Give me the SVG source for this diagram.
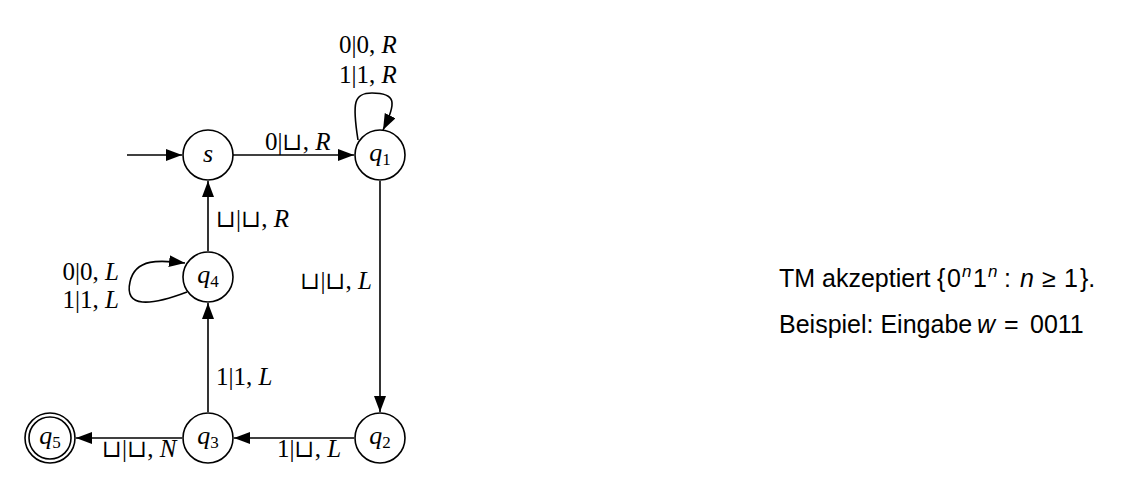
<svg xmlns="http://www.w3.org/2000/svg" width="1124" height="498" viewBox="0 0 1124 498">
<style>
.n{fill:#fff;stroke:#000;stroke-width:1.6}
.e{fill:none;stroke:#000;stroke-width:1.6}
.t{font-family:"Liberation Serif","DejaVu Serif",serif;font-size:25px;fill:#000}
.b{font-family:"DejaVu Serif",serif;font-size:24px;font-weight:normal}
.nl{font-family:"Liberation Serif","DejaVu Serif",serif;font-size:26px;font-style:italic;fill:#000}
.i{font-style:italic}
.sub{font-size:17px;font-style:normal}
.r{font-family:"Liberation Sans","Arial",sans-serif;font-size:25px;fill:#000}
.sup{font-size:17px;font-style:italic}
</style>
<defs>
<marker id="a" markerUnits="userSpaceOnUse" markerWidth="17" markerHeight="13" refX="16" refY="6" orient="auto">
<path d="M0,0 L16,6 L0,12 Z" fill="#000"/>
</marker>
</defs>
<g id="connectors">
<path class="e" d="M127,155 L182,155" marker-end="url(#a)"/>
<path class="e" d="M233,155 L354,155" marker-end="url(#a)"/>
<path class="e" d="M358,140 C352,102 354,93 372,93 C396,93 397,102 383,130" marker-end="url(#a)"/>
<path class="e" d="M380,181 L380,412" marker-end="url(#a)"/>
<path class="e" d="M354,438 L234,438" marker-end="url(#a)"/>
<path class="e" d="M182,438 L76,438" marker-end="url(#a)"/>
<path class="e" d="M208,412 L208,303" marker-end="url(#a)"/>
<path class="e" d="M208,251 L208,181" marker-end="url(#a)"/>
<path class="e" d="M187,292 C150,306 124,308 130,282 C135,258 160,260 185,263" marker-end="url(#a)"/>
</g>
<g id="labels">
<text class="t" x="339" y="53">0|0, <tspan class="i">R</tspan></text>
<text class="t" x="339" y="83">1|1, <tspan class="i">R</tspan></text>
<text class="t" x="265" y="150">0|<tspan class="b">⊔</tspan>, <tspan class="i">R</tspan></text>
<text class="t" x="216" y="227"><tspan class="b">⊔</tspan>|<tspan class="b">⊔</tspan>, <tspan class="i">R</tspan></text>
<text class="t" x="372" y="289" text-anchor="end"><tspan class="b">⊔</tspan>|<tspan class="b">⊔</tspan>, <tspan class="i">L</tspan></text>
<text class="t" x="119" y="280" text-anchor="end">0|0, <tspan class="i">L</tspan></text>
<text class="t" x="119" y="308" text-anchor="end">1|1, <tspan class="i">L</tspan></text>
<text class="t" x="216" y="385">1|1, <tspan class="i">L</tspan></text>
<text class="t" x="277" y="457">1|<tspan class="b">⊔</tspan>, <tspan class="i">L</tspan></text>
<text class="t" x="102" y="457"><tspan class="b">⊔</tspan>|<tspan class="b">⊔</tspan>, <tspan class="i">N</tspan></text>
</g>
<g id="s"><circle class="n" cx="208" cy="155" r="25"/><text class="nl" x="208" y="162" text-anchor="middle">s</text></g>
<g id="q1"><circle class="n" cx="380" cy="155" r="25"/><text class="nl" x="380" y="161" text-anchor="middle">q<tspan class="sub" dy="4">1</tspan></text></g>
<g id="q4"><circle class="n" cx="208" cy="277" r="25"/><text class="nl" x="208" y="283" text-anchor="middle">q<tspan class="sub" dy="4">4</tspan></text></g>
<g id="q3"><circle class="n" cx="208" cy="438" r="25"/><text class="nl" x="208" y="444" text-anchor="middle">q<tspan class="sub" dy="4">3</tspan></text></g>
<g id="q2"><circle class="n" cx="380" cy="438" r="25"/><text class="nl" x="380" y="444" text-anchor="middle">q<tspan class="sub" dy="4">2</tspan></text></g>
<g id="q5"><circle class="n" cx="50" cy="438" r="25"/><circle class="n" cx="50" cy="438" r="21"/><text class="nl" x="50" y="444" text-anchor="middle">q<tspan class="sub" dy="4">5</tspan></text></g>
<g id="caption">
<text class="r" y="287"><tspan x="779">TM akzeptiert</tspan><tspan x="937">{</tspan><tspan x="947">0</tspan><tspan class="sup" x="962" dy="-10">n</tspan><tspan x="973" dy="10">1</tspan><tspan class="sup" x="988" dy="-10">n</tspan><tspan x="1004" dy="10">:</tspan><tspan class="i" x="1020">n</tspan><tspan x="1042">≥</tspan><tspan x="1064">1</tspan><tspan x="1080">}.</tspan></text>
<text class="r" y="333"><tspan x="779">Beispiel: Eingabe</tspan><tspan class="i" x="977">w</tspan><tspan x="1004">=</tspan><tspan x="1030">0011</tspan></text>
</g>
</svg>
